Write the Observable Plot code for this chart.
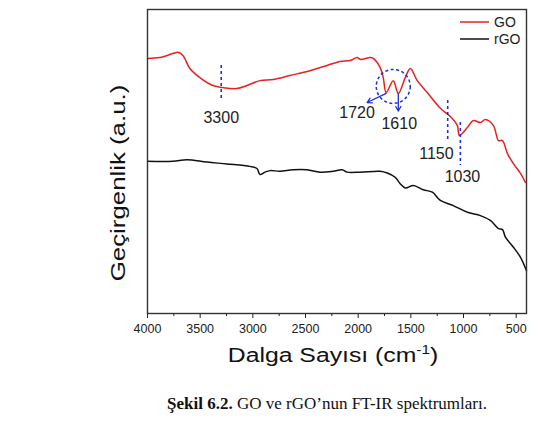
<!DOCTYPE html>
<html><head><meta charset="utf-8">
<script src="https://cdn.jsdelivr.net/npm/d3@7"></script>
<script src="https://cdn.jsdelivr.net/npm/@observablehq/plot@0.6"></script>
<style>
body{margin:0;background:#fff;width:534px;height:424px;overflow:hidden;}
#cap{font-family:"Liberation Serif","Times New Roman",serif;font-size:17px;line-height:20px;color:#111;text-align:left;padding-left:167px;margin-top:14px;}
</style></head><body>
<div id="chart"></div>
<div id="cap"><b>Şekil 6.2.</b> GO ve rGO’nun FT-IR spektrumları.</div>
<script>
// GO spectrum (wavenumber cm-1, transmittance a.u.)
const goWave = [4000,3883,3759,3712,3664,3598,3503,3379,3284,3151,3056,2932,2808,2647,2485,2390,2295,2171,2076,2009,1981,1886,1857,1791,1762,1734,1667,1619,1553,1505,1439,1344,1220,1125,1058,1039,963,906,840,792,716,668,630,583,526,459,412];
const goT    = [83.9,84.2,85.5,85.9,84.9,80.6,77.6,75.0,74.3,74.0,75.0,76.6,77.0,78.3,79.6,80.6,81.6,82.9,83.2,84.2,83.6,84.2,83.9,80.9,77.6,72.7,76.6,72.4,77.6,80.6,76.6,72.7,67.5,64.8,61.8,58.6,61.2,63.5,62.8,63.8,61.8,56.9,56.9,52.6,49.3,46.1,43.1];
// rGO spectrum
const rgoWave = [4000,3759,3626,3436,3246,3027,2961,2932,2885,2837,2742,2619,2485,2362,2238,2152,2105,1981,1791,1724,1648,1601,1553,1477,1382,1296,1220,1097,963,840,745,668,630,602,526,459,402];
const rgoT    = [50.1,50.1,50.6,49.8,49.2,48.4,47.7,45.7,46.5,47.0,46.8,47.3,47.3,46.5,46.8,47.3,46.5,46.5,46.8,46.2,44.8,42.7,41.3,42.1,40.7,39.9,37.2,35.5,33.3,32.2,30.6,27.9,27.6,25.1,21.8,18.5,14.1];
// x tick labels
const majorTicks = [4000,3500,3000,2500,2000,1500,1000,500];
const minorTicks = [3750,3250,2750,2250,1750,1250,750];
// annotations (data coordinates)
const vLines = [{x:3300,y1:81.6,y2:70.1},{x:1150,y1:70.1,y2:56.3},{x:1030,y1:62.8,y2:48.7}];
const annoLabels = [
  {x:3300,y:64.5,t:"3300"},{x:2010,y:66.1,t:"1720"},{x:1610,y:62.5,t:"1610"},
  {x:1257,y:52.6,t:"1150"},{x:1010,y:45.1,t:"1030"}];
const arrows = [{x1:1734,y1:72.4,x2:1915,y2:69.4},{x1:1619,y1:72.4,x2:1619,y2:66.6}];
const circle = [{x:1667,y:74.7}];

const goData = goWave.map((w,i)=>({w,t:goT[i]}));
const rgoData = rgoWave.map((w,i)=>({w,t:rgoT[i]}));
const blue = "#1f2fe0";

const chart = Plot.plot({
  width:534, height:380,
  marginLeft:147, marginRight:8, marginTop:9, marginBottom:67,
  x:{domain:[4000,402]},
  y:{domain:[0,100], axis:null},
  style:{fontFamily:"'Liberation Sans', Arial, sans-serif", fontSize:"12.5px", color:"#222", background:"#fff"},
  marks:[
    Plot.line(rgoData,{x:"w",y:"t",stroke:"#111",strokeWidth:1.5,curve:"catmull-rom"}),
    Plot.line(goData,{x:"w",y:"t",stroke:"#e8201e",strokeWidth:1.5,curve:"catmull-rom"}),
    Plot.ruleX(vLines,{x:"x",y1:"y1",y2:"y2",stroke:blue,strokeWidth:1.6,strokeDasharray:"3,3"}),
    Plot.dot(circle,{x:"x",y:"y",r:17,stroke:blue,strokeWidth:1.5,strokeDasharray:"3,2.5",fill:"none"}),
    Plot.arrow(arrows,{x1:"x1",y1:"y1",x2:"x2",y2:"y2",stroke:blue,strokeWidth:1.3,headLength:6}),
    Plot.text(annoLabels,{x:"x",y:"y",text:"t",fontSize:16,fill:"#222"}),
    Plot.axisX({ticks:majorTicks,tickSize:5,tickPadding:6,tickFormat:d=>String(d),label:null,fontSize:12.5}),
    Plot.axisX({ticks:minorTicks,tickSize:3,tickFormat:()=>"",label:null}),
    Plot.frame({stroke:"#333",strokeWidth:1.4})
  ]
});
document.getElementById("chart").appendChild(chart);

const svg = d3.select(chart);
// legend
const leg = [{name:"GO",c:"#e8201e",y:22},{name:"rGO",c:"#111",y:39}];
leg.forEach(l=>{
  svg.append("line").attr("x1",460).attr("x2",489).attr("y1",l.y).attr("y2",l.y).attr("stroke",l.c).attr("stroke-width",1.5);
  svg.append("text").attr("x",494).attr("y",l.y).attr("dy","0.36em").attr("text-anchor","start").attr("font-size",14).attr("fill","#222").text(l.name);
});
// axis titles
const xt = svg.append("text").attr("transform","translate(333,362) scale(1.18,1)").attr("text-anchor","middle").attr("font-size",21).attr("fill","#111");
xt.append("tspan").text("Dalga Sayısı (cm");
xt.append("tspan").attr("font-size",13).attr("dy",-8).text("-1");
xt.append("tspan").attr("dy",8).text(")");
svg.append("text").attr("transform","translate(125,183) rotate(-90) scale(1.23,1)").attr("text-anchor","middle").attr("font-size",21).attr("fill","#111").text("Geçirgenlik (a.u.)");
</script>
</body></html>
